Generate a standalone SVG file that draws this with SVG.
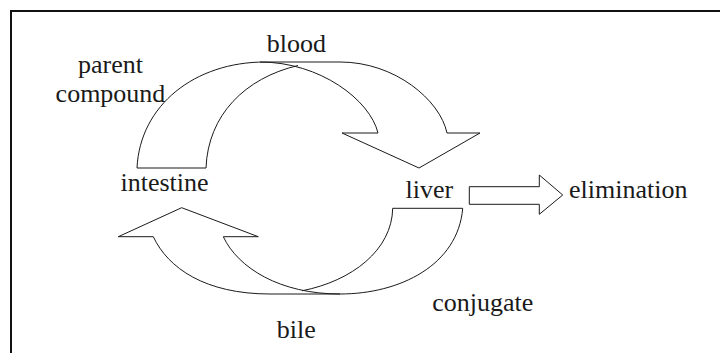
<svg xmlns="http://www.w3.org/2000/svg" width="720" height="353" viewBox="0 0 720 353">
<style>
.t{font-family:"Liberation Serif","Times New Roman",serif;font-size:26px;fill:#1a1a1a;text-anchor:middle}
.c{fill:none;stroke:#1a1a1a;stroke-width:1;stroke-linejoin:miter}
.f{fill:none;stroke:#111;stroke-width:2}
</style>
<rect width="720" height="353" fill="#fff"/>
<g id="frame">
<line class="f" x1="10" y1="11" x2="720" y2="11"/>
<line class="f" x1="11" y1="10" x2="11" y2="353"/>
</g>
<g id="connectors">
<g id="blood-arrow">
<path class="c" d="M137,168 C140,105 195,62 265,62 L340,62 C395,62 440,100 447,133 L480,133 L419,168 L342,133 L378,133 C370,100 320,62 260,62"/>
<path class="c" d="M206,168 C208,115 245,78 298,65.5"/>
<line class="c" x1="137" y1="168" x2="206" y2="168"/>
</g>
<g id="bile-arrow">
<path class="c" d="M462.7,208.3 L392.7,208.3 C392,250 352,281 302,290.8"/>
<path class="c" d="M462.7,208.3 C458,265 400,294 340,294 L270,294 C205,294 168,268 153.3,236.7 L118.3,236.7 L181.7,207.7 L258.3,236.7 L223.3,236.7 C238,268 280,294 340,294"/>
</g>
<g id="elimination-arrow">
<polygon class="c" points="469.3,186.7 539.3,186.7 539.3,175 562.7,195 539.3,214.3 539.3,204.3 469.3,204.3"/>
</g>
</g>
<g id="parent-compound"><text class="t" x="110.5" y="72.7">parent</text><text class="t" x="110.5" y="101.7">compound</text></g>
<g id="blood"><text class="t" x="296.3" y="52.3">blood</text></g>
<g id="intestine"><text class="t" x="164.5" y="190.7">intestine</text></g>
<g id="liver"><text class="t" x="429.3" y="197.5">liver</text></g>
<g id="elimination"><text class="t" x="628.3" y="198.3">elimination</text></g>
<g id="conjugate"><text class="t" x="482.8" y="310.7">conjugate</text></g>
<g id="bile"><text class="t" x="296.3" y="338.3">bile</text></g>
</svg>
